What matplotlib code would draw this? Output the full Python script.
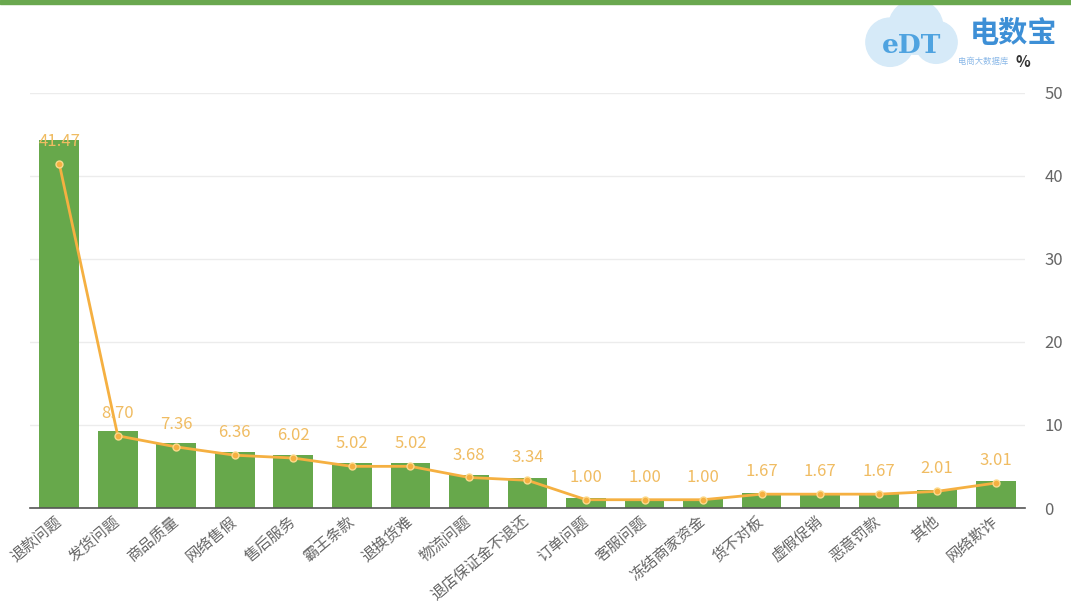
import numpy as np
import matplotlib.pyplot as plt
from matplotlib.patches import Ellipse

plt.rcParams['font.family'] = ['Noto Sans CJK SC', 'DejaVu Sans']

categories = ["退款问题", "发货问题", "商品质量", "网络售假", "售后服务", "霸王条款", "退换货难",
              "物流问题", "退店保证金不退还", "订单问题", "客服问题", "冻结商家资金", "货不对板",
              "虚假促销", "恶意罚款", "其他", "网络欺诈"]
bar_values = [44.3, 9.3, 7.85, 6.8, 6.42, 5.45, 5.4, 3.98, 3.6, 1.15, 1.12, 1.12, 1.8,
              1.8, 1.8, 2.17, 3.25]
line_values = [41.47, 8.70, 7.36, 6.36, 6.02, 5.02, 5.02, 3.68, 3.34, 1.00, 1.00, 1.00, 1.67,
               1.67, 1.67, 2.01, 3.01]
y_ticks = [0, 10, 20, 30, 40, 50]

green = "#67a84b"
orange = "#f5b041"
label_col = "#f0bc62"

fig = plt.figure(figsize=(10.71, 6.03), dpi=100)
ax = fig.add_axes([0.028, 0.1575, 0.929, 0.6885])

x = np.arange(len(categories))
ax.bar(x, bar_values, width=0.68, color=green, zorder=2)
ax.plot(x, line_values, color=orange, lw=2, marker="o", ms=5,
        markerfacecolor=orange, markeredgecolor="#fcd98a", zorder=3)
for xi, v in zip(x, line_values):
    ax.annotate(f"{v:.2f}", (xi, v), xytext=(0, 10), textcoords="offset points",
                ha="center", va="bottom", color=label_col, fontsize=12, zorder=4)

ax.set_xlim(-0.5, len(categories) - 0.5)
ax.set_ylim(0, 50)
ax.set_yticks(y_ticks)
ax.yaxis.tick_right()
ax.tick_params(axis="y", length=0, pad=14, labelsize=12, labelcolor="#666666")
ax.grid(axis="y", color="#ececec", lw=1, zorder=0)
ax.set_xticks(x)
ax.set_xticklabels(categories, rotation=40, ha="right", va="center", rotation_mode="anchor",
                   fontsize=11, color="#666666")
ax.tick_params(axis="x", length=0, pad=8)
for s in ["top", "left", "right"]:
    ax.spines[s].set_visible(False)
ax.spines["bottom"].set_color("#555555")
ax.spines["bottom"].set_linewidth(1.2)

# top stripe, unit and logo
fig.patches.append(plt.Rectangle((0, 0.994), 1, 0.006, transform=fig.transFigure,
                                 color="#6aa84f", zorder=5))
asp = 603 / 1071
for cx, cy, r in [(0.831, 0.93, 0.04), (0.855, 0.955, 0.045), (0.874, 0.93, 0.035)]:
    fig.patches.append(Ellipse((cx, cy), 2 * r * asp, 2 * r, transform=fig.transFigure,
                               color="#d6eaf8", zorder=1))
fig.text(0.851, 0.925, "eDT", fontsize=19, color="#4fa3e0", fontweight="bold",
         ha="center", va="center", family="DejaVu Serif", zorder=6)
fig.text(0.946, 0.945, "电数宝", fontsize=21, color="#3d8fd6", fontweight="bold",
         ha="center", va="center")
fig.text(0.918, 0.898, "电商大数据库", fontsize=6, color="#8ab8e8", ha="center", va="center")
fig.text(0.955, 0.897, "%", fontsize=11, color="#333333", fontweight="bold", ha="center",
         va="center")

fig.savefig("out.png", dpi=100, facecolor="white")
